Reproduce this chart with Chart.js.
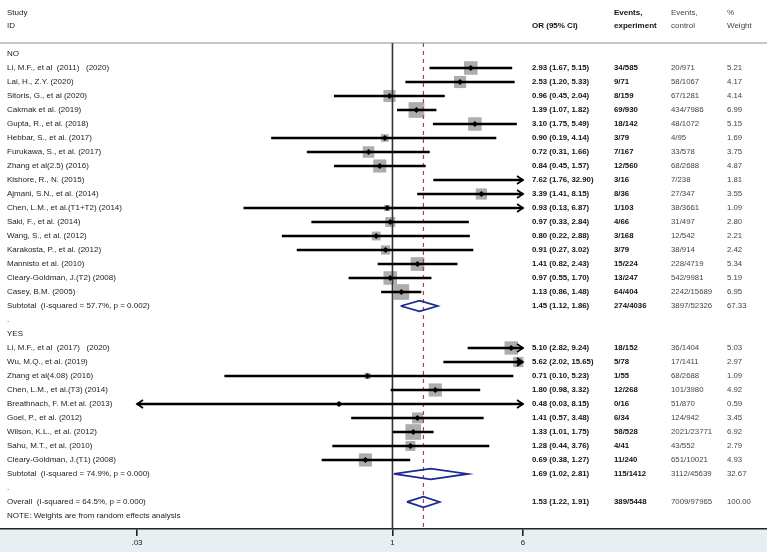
<!DOCTYPE html>
<html>
<head>
<meta charset="utf-8">
<title>Forest plot</title>
<script src="https://cdn.jsdelivr.net/npm/chart.js@4.4.1/dist/chart.umd.min.js"></script>
<style>
    html, body { margin: 0; padding: 0; background: #fff; }
    #wrap { width: 767px; height: 552px; }
</style>
</head>
<body>
<div id="wrap"><canvas id="forestChart" width="767" height="552"></canvas></div>
<script>
// rows from top to bottom
const rowLabels = [
    'NO',
    'Li, M.F., et al  (2011)   (2020)',
    'Lai, H., Z.Y. (2020)',
    'Sitoris, G., et al (2020)',
    'Cakmak et al. (2019)',
    'Gupta, R., et al. (2018)',
    'Hebbar, S., et al. (2017)',
    'Furukawa, S., et al. (2017)',
    'Zhang et al(2.5) (2016)',
    'Kishore, R., N. (2015)',
    'Ajmani, S.N., et al. (2014)',
    'Chen, L.M., et al.(T1+T2) (2014)',
    'Saki, F., et al. (2014)',
    'Wang, S., et al. (2012)',
    'Karakosta, P., et al. (2012)',
    'Mannisto et al. (2010)',
    'Cleary-Goldman, J.(T2) (2008)',
    'Casey, B.M. (2005)',
    'Subtotal  (I-squared = 57.7%, p = 0.002)',
    '.',
    'YES',
    'Li, M.F., et al  (2017)   (2020)',
    'Wu, M.Q., et al. (2019)',
    'Zhang et al(4.08) (2016)',
    'Chen, L.M., et al.(T3) (2014)',
    'Breathnach, F. M.et al. (2013)',
    'Goel, P., et al. (2012)',
    'Wilson, K.L., et al. (2012)',
    'Sahu, M.T., et al. (2010)',
    'Cleary-Goldman, J.(T1) (2008)',
    'Subtotal  (I-squared = 74.9%, p = 0.000)',
    '.',
    'Overall  (I-squared = 64.5%, p = 0.000)',
    'NOTE: Weights are from random effects analysis'
];
const rowKinds = [
    'group', 'study', 'study', 'study', 'study', 'study', 'study', 'study', 'study', 'study',
    'study', 'study', 'study', 'study', 'study', 'study', 'study', 'study', 'pooled', 'blank',
    'group', 'study', 'study', 'study', 'study', 'study', 'study', 'study', 'study', 'study',
    'pooled', 'blank', 'pooled', 'note'
];
const orValues = [
    null, 2.93, 2.53, 0.96, 1.39, 3.10, 0.90, 0.72, 0.84, 7.62, 3.39, 0.93, 0.97, 0.80, 0.91, 1.41, 0.97, 1.13, 1.45, null,
    null, 5.10, 5.62, 0.71, 1.80, 0.48, 1.41, 1.33, 1.28, 0.69, 1.69, null, 1.53, null
];
const ciLower = [
    null, 1.67, 1.20, 0.45, 1.07, 1.75, 0.19, 0.31, 0.45, 1.76, 1.41, 0.13, 0.33, 0.22, 0.27, 0.82, 0.55, 0.86, 1.12, null,
    null, 2.82, 2.02, 0.10, 0.98, 0.03, 0.57, 1.01, 0.44, 0.38, 1.02, null, 1.22, null
];
const ciUpper = [
    null, 5.15, 5.33, 2.04, 1.82, 5.49, 4.14, 1.66, 1.57, 32.90, 8.15, 6.87, 2.84, 2.88, 3.02, 2.43, 1.70, 1.48, 1.86, null,
    null, 9.24, 15.65, 5.23, 3.32, 8.15, 3.48, 1.75, 3.76, 1.27, 2.81, null, 1.91, null
];
const eventsExp = [
    null, '34/585', '9/71', '8/159', '69/930', '18/142', '3/79', '7/167', '12/560', '3/16', '8/36', '1/103', '4/66', '3/168',
    '3/79', '15/224', '13/247', '64/404', '274/4036', null,
    null, '18/152', '5/78', '1/55', '12/268', '0/16', '6/34', '58/528', '4/41', '11/240', '115/1412', null, '389/5448', null
];
const eventsCtl = [
    null, '20/971', '58/1067', '67/1281', '434/7986', '48/1072', '4/95', '33/578', '68/2688', '7/238', '27/347', '38/3661',
    '31/497', '12/542', '38/914', '228/4719', '542/9981', '2242/15689', '3897/52326', null,
    null, '36/1404', '17/1411', '68/2688', '101/3980', '51/870', '124/942', '2021/23771', '43/552', '651/10021',
    '3112/45639', null, '7009/97965', null
];
const weights = [
    null, 5.21, 4.17, 4.14, 6.99, 5.15, 1.69, 3.75, 4.87, 1.81, 3.55, 1.09, 2.80, 2.21, 2.42, 5.34, 5.19, 6.95, 67.33, null,
    null, 5.03, 2.97, 1.09, 4.92, 0.59, 3.45, 6.92, 2.79, 4.93, 32.67, null, 100.00, null
];
const tickValues = [0.03, 1, 6];
const tickLabels = ['.03', '1', '6'];
const overallOR = 1.53;

// plot limits: CIs beyond these get an arrow
const CLIP_MIN = 0.03;
const CLIP_MAX = 6;
// visible log range of the whole canvas width
const VIEW_MIN = 0.004575;
const VIEW_MAX = 170.9;
const ROW_MIN = -0.786;
const ROW_MAX = 33.93;

const FONT = '"Liberation Sans", Arial, sans-serif';

const studyRows = rowKinds.map((k, i) => (k === 'study' ? i : -1)).filter(i => i >= 0);
const pooledRows = rowKinds.map((k, i) => (k === 'pooled' ? i : -1)).filter(i => i >= 0);
// estimates outside the plotted range are not drawn (only the arrow)
const visibleRows = studyRows.filter(i => orValues[i] >= CLIP_MIN && orValues[i] <= CLIP_MAX);

const ciData = studyRows.map(i => ({
    y: i,
    x: [Math.max(ciLower[i], CLIP_MIN), Math.min(ciUpper[i], CLIP_MAX)]
}));
const pointData = visibleRows.map(i => ({ x: orValues[i], y: i }));
const squareSizes = visibleRows.map(i => 4.2 * Math.sqrt(weights[i]));

function diamond(i) {
    const h = 0.38;
    return [
        { x: ciLower[i], y: i },
        { x: orValues[i], y: i - h },
        { x: ciUpper[i], y: i },
        { x: orValues[i], y: i + h },
        { x: ciLower[i], y: i }
    ];
}

const diamondSets = pooledRows.map(i => ({
    type: 'scatter',
    data: diamond(i),
    showLine: true,
    borderColor: '#1d2a8c',
    borderWidth: 1.8,
    pointRadius: 0,
    fill: false,
    order: 2
}));

// white plot region and blue-grey axis band
const backgroundPlugin = {
    id: 'backgroundPlugin',
    beforeDraw(chart) {
        const { ctx, width, height, chartArea } = chart;
        ctx.save();
        ctx.fillStyle = '#ffffff';
        ctx.fillRect(0, 0, width, height);
        ctx.fillStyle = '#e8eff3';
        ctx.fillRect(0, chartArea.bottom, width, height - chartArea.bottom);
        // header separator
        ctx.strokeStyle = '#b5b5b5';
        ctx.lineWidth = 1.5;
        ctx.beginPath();
        ctx.moveTo(0, chartArea.top);
        ctx.lineTo(width, chartArea.top);
        ctx.stroke();
        ctx.restore();
    }
};

// arrows for clipped confidence intervals
const arrowPlugin = {
    id: 'arrowPlugin',
    afterDatasetsDraw(chart) {
        const { ctx } = chart;
        const xs = chart.scales.x;
        const ys = chart.scales.y;
        ctx.save();
        ctx.strokeStyle = '#000';
        ctx.lineWidth = 1.6;
        studyRows.forEach(i => {
            const py = ys.getPixelForValue(i);
            if (ciUpper[i] > CLIP_MAX) {
                const px = xs.getPixelForValue(CLIP_MAX);
                ctx.beginPath();
                ctx.moveTo(px - 6, py - 4);
                ctx.lineTo(px, py);
                ctx.lineTo(px - 6, py + 4);
                ctx.stroke();
            }
            if (ciLower[i] <= CLIP_MIN) {
                const px = xs.getPixelForValue(CLIP_MIN);
                ctx.beginPath();
                ctx.moveTo(px + 6, py - 4);
                ctx.lineTo(px, py);
                ctx.lineTo(px + 6, py + 4);
                ctx.stroke();
            }
        });
        ctx.restore();
    }
};

// study names and table columns
const textPlugin = {
    id: 'textPlugin',
    afterDraw(chart) {
        const { ctx } = chart;
        const ys = chart.scales.y;
        const colOR = 532, colExp = 614, colCtl = 671, colW = 727;
        ctx.save();
        ctx.textBaseline = 'middle';
        ctx.textAlign = 'left';

        ctx.fillStyle = '#222';
        ctx.font = '8px ' + FONT;
        ctx.fillText('Study', 7, 13);
        ctx.fillText('ID', 7, 26);
        ctx.fillStyle = '#444';
        ctx.fillText('Events,', colCtl, 13);
        ctx.fillText('control', colCtl, 26);
        ctx.fillText('%', colW, 13);
        ctx.fillText('Weight', colW, 26);
        ctx.fillStyle = '#111';
        ctx.font = 'bold 8px ' + FONT;
        ctx.fillText('OR (95% CI)', colOR, 26);
        ctx.fillText('Events,', colExp, 13);
        ctx.fillText('experiment', colExp, 26);

        rowLabels.forEach((label, i) => {
            const py = ys.getPixelForValue(i);
            ctx.font = '8px ' + FONT;
            ctx.fillStyle = '#222';
            ctx.fillText(label, 7, py);
            if (orValues[i] == null) return;
            ctx.font = 'bold 7.8px ' + FONT;
            ctx.fillStyle = '#111';
            ctx.fillText(orValues[i].toFixed(2) + ' (' + ciLower[i].toFixed(2) + ', ' + ciUpper[i].toFixed(2) + ')', colOR, py);
            ctx.fillText(eventsExp[i], colExp, py);
            ctx.font = '7.8px ' + FONT;
            ctx.fillStyle = '#444';
            ctx.fillText(eventsCtl[i], colCtl, py);
            ctx.fillText(weights[i].toFixed(2), colW, py);
        });
        ctx.restore();
    }
};

document.addEventListener('DOMContentLoaded', function() {
    const canvas = document.getElementById('forestChart');
    new Chart(canvas, {
        type: 'scatter',
        data: {
            datasets: [{
                // weight squares
                type: 'scatter',
                data: pointData,
                pointStyle: 'rect',
                pointRadius: squareSizes,
                backgroundColor: '#adadad',
                borderWidth: 0,
                order: 7
            }, {
                // line of no effect
                type: 'scatter',
                data: [{ x: 1, y: ROW_MIN }, { x: 1, y: ROW_MAX }],
                showLine: true,
                borderColor: '#333',
                borderWidth: 1.6,
                pointRadius: 0,
                order: 6
            }, {
                // overall estimate
                type: 'scatter',
                data: [{ x: overallOR, y: ROW_MIN }, { x: overallOR, y: ROW_MAX }],
                showLine: true,
                borderColor: '#a04848',
                borderWidth: 1.2,
                borderDash: [4, 4],
                pointRadius: 0,
                order: 5
            }, {
                // confidence intervals
                type: 'bar',
                indexAxis: 'y',
                data: ciData,
                backgroundColor: '#000',
                barThickness: 2,
                order: 4
            }, {
                // point estimates
                type: 'scatter',
                data: pointData,
                pointStyle: 'rectRot',
                pointRadius: 3,
                backgroundColor: '#000',
                borderWidth: 0,
                order: 1
            }].concat(diamondSets)
        },
        options: {
            responsive: false,
            animation: false,
            events: [],
            layout: {
                autoPadding: false,
                padding: { top: 43, left: 0, right: 0, bottom: 0 }
            },
            plugins: {
                legend: { display: false },
                tooltip: { enabled: false }
            },
            scales: {
                x: {
                    type: 'logarithmic',
                    min: VIEW_MIN,
                    max: VIEW_MAX,
                    afterBuildTicks: scale => {
                        scale.ticks = tickValues.map(v => ({ value: v }));
                    },
                    afterFit: scale => {
                        scale.height = 23;
                    },
                    grid: {
                        drawOnChartArea: false,
                        drawTicks: true,
                        tickLength: 7,
                        color: '#222',
                        lineWidth: 1.6
                    },
                    border: { color: '#222', width: 1.5 },
                    ticks: {
                        autoSkip: false,
                        maxRotation: 0,
                        padding: 2,
                        color: '#222',
                        font: { size: 8, family: FONT },
                        callback: value => tickLabels[tickValues.indexOf(value)]
                    }
                },
                y: {
                    type: 'linear',
                    reverse: true,
                    offset: false,
                    min: ROW_MIN,
                    max: ROW_MAX,
                    display: false
                }
            }
        },
        plugins: [backgroundPlugin, arrowPlugin, textPlugin]
    });
});
</script>
</body>
</html>
